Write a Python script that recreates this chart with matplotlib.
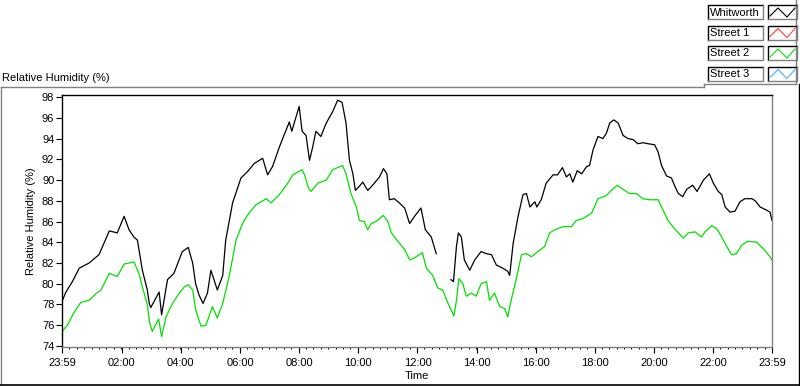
import numpy as np
import matplotlib
matplotlib.use("Agg")
import matplotlib.pyplot as plt
from matplotlib.lines import Line2D
from matplotlib.patches import Rectangle

plt.rcParams['font.family'] = ['Liberation Sans', 'DejaVu Sans']
plt.rcParams['font.size'] = 8

# readings, clock time (first 23:59 is the day before)
whit_time = ["23:59", "00:07", "00:20", "00:34", "00:54", "01:14", "01:35", "01:51", "02:05", "02:15",
             "02:25", "02:32", "02:42", "02:52", "02:56", "02:59", "03:16", "03:21", "03:33", "03:46",
             "04:03", "04:15", "04:24", "04:30", "04:37", "04:45", "04:54", "05:01", "05:14", "05:25",
             "05:31", "05:45", "06:02", "06:15", "06:29", "06:46", "06:56", "07:06", "07:20", "07:40",
             "07:45", "08:00", "08:06", "08:14", "08:21", "08:27", "08:34", "08:44", "08:55", "09:08",
             "09:18", "09:27", "09:35", "09:42", "09:49", "09:54", "10:02", "10:09", "10:19", "10:29",
             "10:43", "10:51", "10:58", "11:03", "11:13", "11:23", "11:34", "11:44", "11:54", "12:07",
             "12:16", "12:28", "12:38", "12:50", "13:08", "13:13", "13:19", "13:23", "13:29", "13:35",
             "13:46", "13:56", "14:09", "14:20", "14:30", "14:40", "14:53", "15:03", "15:07", "15:14",
             "15:24", "15:34", "15:41", "15:48", "15:58", "16:02", "16:11", "16:21", "16:35", "16:44",
             "16:54", "17:02", "17:09", "17:15", "17:24", "17:33", "17:43", "17:49", "17:56", "18:06",
             "18:16", "18:23", "18:30", "18:38", "18:47", "18:57", "19:07", "19:17", "19:27", "19:37",
             "19:48", "20:01", "20:08", "20:15", "20:25", "20:35", "20:42", "20:49", "20:58", "21:06",
             "21:18", "21:27", "21:40", "21:52", "22:00", "22:10", "22:17", "22:24", "22:34", "22:44",
             "22:54", "23:04", "23:18", "23:25", "23:35", "23:48", "23:55", "23:59"]
whitworth = [78.3, 79.2, 80.2, 81.5, 82.0, 82.8, 85.1, 84.9, 86.5, 85.2,
             84.5, 84.2, 81.3, 79.4, 78.1, 77.7, 79.2, 77.0, 80.4, 81.0,
             83.1, 83.5, 82.0, 80.0, 78.9, 78.1, 79.1, 81.3, 79.4, 80.8,
             84.2, 87.8, 90.2, 90.8, 91.6, 92.1, 90.5, 91.3, 93.2, 95.6,
             94.7, 97.1, 94.7, 94.3, 91.9, 93.1, 94.7, 94.2, 95.5, 96.6,
             97.7, 97.5, 95.5, 91.9, 90.6, 89.0, 89.4, 89.8, 89.0, 89.5,
             90.3, 91.1, 90.6, 88.1, 88.2, 87.8, 87.3, 85.8, 86.5, 87.3,
             85.2, 84.5, 82.9, np.nan, 80.4, 80.2, 83.6, 84.9, 84.5, 82.3,
             81.3, 82.3, 83.1, 82.9, 82.8, 81.8, 81.5, 81.2, 80.8, 83.9,
             86.5, 88.6, 88.7, 87.4, 87.9, 87.4, 88.1, 89.7, 90.5, 90.5,
             91.2, 90.3, 90.6, 89.8, 90.9, 90.6, 91.3, 91.4, 92.9, 94.2,
             94.0, 94.5, 95.5, 95.8, 95.5, 94.3, 94.0, 93.9, 93.5, 93.6,
             93.5, 93.4, 92.7, 91.4, 90.4, 90.2, 89.4, 88.7, 88.4, 89.1,
             89.5, 88.9, 90.0, 90.6, 89.7, 88.9, 88.6, 87.4, 86.9, 87.0,
             87.9, 88.2, 88.2, 88.0, 87.4, 87.1, 86.9, 86.1]

st2_time = ["23:59", "00:10", "00:23", "00:37", "00:54", "01:07", "01:18", "01:35", "01:51", "02:05",
            "02:25", "02:35", "02:42", "02:52", "02:57", "03:02", "03:15", "03:21", "03:30", "03:43",
            "03:57", "04:07", "04:15", "04:24", "04:30", "04:41", "04:51", "05:04", "05:14", "05:25",
            "05:38", "05:52", "06:05", "06:15", "06:32", "06:53", "07:03", "07:20", "07:37", "07:47",
            "08:06", "08:11", "08:19", "08:24", "08:38", "08:55", "09:08", "09:28", "09:35", "09:45",
            "09:56", "10:02", "10:12", "10:19", "10:26", "10:39", "10:50", "11:00", "11:07", "11:20",
            "11:34", "11:44", "11:54", "12:10", "12:18", "12:31", "12:41", "12:51", "13:02", "13:08",
            "13:14", "13:19", "13:24", "13:32", "13:39", "13:49", "13:59", "14:09", "14:20", "14:26",
            "14:36", "14:47", "14:57", "15:03", "15:10", "15:20", "15:31", "15:41", "15:51", "16:04",
            "16:18", "16:28", "16:38", "16:55", "17:12", "17:22", "17:36", "17:53", "18:06", "18:23",
            "18:33", "18:45", "18:57", "19:10", "19:24", "19:37", "19:51", "20:08", "20:18", "20:28",
            "20:38", "20:49", "20:59", "21:09", "21:23", "21:36", "21:43", "21:57", "22:07", "22:17",
            "22:27", "22:37", "22:47", "22:57", "23:10", "23:28", "23:41", "23:55", "23:59"]
street2 = [75.4, 76.0, 77.2, 78.2, 78.4, 79.0, 79.4, 81.0, 80.7, 81.9,
           82.1, 81.0, 79.7, 78.0, 76.2, 75.4, 76.6, 74.9, 76.8, 78.1,
           79.1, 79.7, 79.9, 79.4, 77.5, 75.9, 76.0, 77.8, 76.7, 78.1,
           80.7, 84.2, 85.8, 86.6, 87.6, 88.2, 87.8, 88.6, 89.7, 90.5,
           91.0, 90.5, 89.2, 88.9, 89.7, 90.0, 91.0, 91.4, 90.6, 88.7,
           87.4, 86.1, 86.0, 85.2, 85.8, 86.1, 86.6, 86.0, 84.9, 84.1,
           83.3, 82.3, 82.5, 83.0, 81.5, 80.8, 79.6, 79.4, 78.1, 77.5,
           76.9, 78.4, 80.5, 80.0, 78.8, 79.1, 78.8, 80.0, 80.2, 78.4,
           79.1, 77.8, 77.6, 76.8, 78.4, 80.4, 82.8, 82.9, 82.6, 83.1,
           83.6, 84.9, 85.2, 85.5, 85.5, 86.1, 86.3, 86.8, 88.2, 88.5,
           89.0, 89.5, 89.1, 88.7, 88.7, 88.2, 88.1, 88.1, 87.1, 86.1,
           85.5, 84.9, 84.4, 84.9, 85.0, 84.5, 85.0, 85.6, 85.3, 84.5,
           83.6, 82.8, 82.9, 83.7, 84.1, 84.0, 83.4, 82.6, 82.3]

legend_names = ["Whitworth", "Street 1", "Street 2", "Street 3"]
legend_colors = ["black", "#ff4040", "#00e000", "#40b0ff"]

tick_labels = ["23:59", "02:00", "04:00", "06:00", "08:00", "10:00", "12:00",
               "14:00", "16:00", "18:00", "20:00", "22:00", "23:59"]


def to_minutes(times):
    # minutes elapsed since the 23:59 start of the chart
    m = np.array([int(t[:2]) * 60 + int(t[3:]) + 1 for t in times], dtype=float)
    m[0] = 0.0
    return m


fig = plt.figure(figsize=(8.0, 3.86), dpi=100)
W, H = 800.0, 386.0

# frame/legend drawn in pixel coords on a background axes
bg = fig.add_axes([0, 0, 1, 1])
bg.set_xlim(0, W)
bg.set_ylim(H, 0)
bg.axis('off')

gray = '#808080'
bg.add_line(Line2D([1, 1], [87, 384], color=gray, lw=1))
bg.add_line(Line2D([1, 704], [87, 87], color=gray, lw=1))
bg.add_line(Line2D([704, 704], [84, 87], color=gray, lw=1))
bg.add_line(Line2D([704, 796], [84, 84], color=gray, lw=1))
bg.add_line(Line2D([796, 796], [0, 84], color=gray, lw=1))
bg.add_line(Line2D([798.5, 798.5], [84, 385], color='black', lw=1))
bg.add_line(Line2D([0, 800], [384.5, 384.5], color='black', lw=1.2))

bg.text(2, 78, "Relative Humidity (%)", ha='left', va='center', fontsize=8)

# legend rows
for i, (name, col) in enumerate(zip(legend_names, legend_colors)):
    top = 5 + i * 20.5
    h = 14
    bg.add_patch(Rectangle((708, top), 55, h, facecolor='white', edgecolor='none'))
    bg.add_line(Line2D([708, 708, 763], [top + h, top, top], color='black', lw=1))
    bg.add_line(Line2D([708, 763, 763], [top + h, top + h, top], color=gray, lw=1))
    bg.text(710, top + h / 2 + 0.5, name, ha='left', va='center', fontsize=8)
    bg.add_patch(Rectangle((768, top), 29, h, facecolor='white', edgecolor='none'))
    bg.add_line(Line2D([768, 768, 797], [top + h, top, top], color='black', lw=1))
    bg.add_line(Line2D([768, 797, 797], [top + h, top + h, top], color=gray, lw=1))
    bg.add_line(Line2D([770, 778, 787, 795], [top + h - 3, top + 3, top + h - 2, top + 3],
                       color=col, lw=0.8))

ax = fig.add_axes([62 / W, (H - 347) / H, (772 - 62) / W, (347 - 95) / H])
ax.plot(to_minutes(whit_time), whitworth, color='black', lw=0.9)
ax.plot(to_minutes(st2_time), street2, color=legend_colors[2], lw=0.9)

ax.set_xlim(0, 1440)
ax.set_ylim(73.9, 98.2)

major = [0] + [h * 60 + 1 for h in range(2, 24, 2)] + [1440]
ax.set_xticks(major)
ax.set_xticklabels(tick_labels)
ax.set_xticks(np.arange(0, 1441, 15), minor=True)
ax.set_yticks(np.arange(74, 99, 2))

ax.tick_params(axis='x', which='major', length=4, width=0.8, pad=4, direction='out')
ax.tick_params(axis='x', which='minor', length=1.6, width=0.8, direction='out')
ax.tick_params(axis='y', which='major', length=4, width=0.8, pad=1.5, direction='out')

for s in ['top', 'left']:
    ax.spines[s].set_color('black')
for s in ['bottom', 'right']:
    ax.spines[s].set_color(gray)
for s in ax.spines.values():
    s.set_linewidth(1)

ax.set_xlabel("Time", labelpad=2)
ax.set_ylabel("Relative Humidity (%)", labelpad=4)

fig.savefig("out.png", dpi=100)
